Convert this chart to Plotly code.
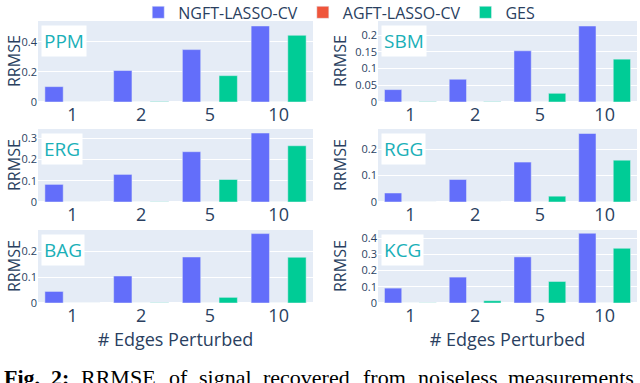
import plotly.graph_objects as go

categories = ["1", "2", "5", "10"]
graphs = ["PPM", "SBM", "ERG", "RGG", "BAG", "KCG"]
series_names = ["NGFT-LASSO-CV", "AGFT-LASSO-CV", "GES"]
series_colors = ["#636efa", "#EF553B", "#00cc96"]

ngft_ppm = [0.102, 0.209, 0.348, 0.505]
agft_ppm = [0.0, 0.0, 0.0, 0.0]
ges_ppm = [0.0, 0.003, 0.175, 0.443]

ngft_sbm = [0.037, 0.068, 0.153, 0.227]
agft_sbm = [0.0, 0.0, 0.0, 0.0]
ges_sbm = [0.001, 0.001, 0.026, 0.128]

ngft_erg = [0.083, 0.130, 0.237, 0.325]
agft_erg = [0.0, 0.0, 0.0, 0.0]
ges_erg = [0.0, 0.001, 0.106, 0.265]

ngft_rgg = [0.034, 0.085, 0.151, 0.259]
agft_rgg = [0.0, 0.0, 0.0, 0.0]
ges_rgg = [0.0, 0.0, 0.022, 0.158]

ngft_bag = [0.045, 0.105, 0.179, 0.270]
agft_bag = [0.0, 0.0, 0.0, 0.0]
ges_bag = [0.0, 0.001, 0.022, 0.178]

ngft_kcg = [0.092, 0.160, 0.285, 0.431]
agft_kcg = [0.0, 0.0, 0.0, 0.0]
ges_kcg = [0.001, 0.014, 0.133, 0.338]

y_dticks = [0.2, 0.05, 0.1, 0.1, 0.1, 0.1]
y_max = [0.538, 0.242, 0.344, 0.276, 0.284, 0.451]

caption_words = ["<b>Fig.</b>", "<b>2:</b>", "RRMSE", "of", "signal", "recovered",
                 "from", "noiseless", "measurements"]
caption_px = [3, 50, 80, 168, 198, 262, 362, 417, 507]

data_by_graph = [
    (ngft_ppm, agft_ppm, ges_ppm),
    (ngft_sbm, agft_sbm, ges_sbm),
    (ngft_erg, agft_erg, ges_erg),
    (ngft_rgg, agft_rgg, ges_rgg),
    (ngft_bag, agft_bag, ges_bag),
    (ngft_kcg, agft_kcg, ges_kcg),
]

W, H = 640, 383
x_domains = [[38 / W, 313 / W], [378 / W, 637 / W]]
y_domains = [[1 - 102 / H, 1 - 21 / H], [1 - 202 / H, 1 - 129 / H], [1 - 303 / H, 1 - 230 / H]]
ytitle_px = [13.5, 339.5]

fig = go.Figure()
layout = {}
annotations = []
for i, (g, vals) in enumerate(zip(graphs, data_by_graph)):
    r, c = divmod(i, 2)
    n = i + 1
    xa = "x" if n == 1 else f"x{n}"
    ya = "y" if n == 1 else f"y{n}"
    for s, (name, color, v) in enumerate(zip(series_names, series_colors, vals)):
        fig.add_trace(go.Bar(
            x=categories, y=v, name=name, marker_color=color,
            xaxis=xa, yaxis=ya, legendgroup=name, showlegend=(i == 0),
        ))
    xkey = "xaxis" if n == 1 else f"xaxis{n}"
    ykey = "yaxis" if n == 1 else f"yaxis{n}"
    layout[xkey] = dict(
        domain=x_domains[c], anchor=ya, type="category", automargin=False,
        tickfont=dict(size=18),
        title=dict(text="# Edges Perturbed", font=dict(size=18), standoff=4) if r == 2 else None,
    )
    layout[ykey] = dict(
        domain=y_domains[r], anchor=xa, dtick=y_dticks[i], range=[0, y_max[i]],
        tickfont=dict(size=11), automargin=False,
    )
    annotations.append(dict(
        text="RRMSE", xref="paper", yref="paper", x=ytitle_px[c] / W,
        y=sum(y_domains[r]) / 2, xanchor="center", yanchor="middle", textangle=-90,
        showarrow=False, font=dict(size=16, color="#2a3f5f"),
    ))
    annotations.append(dict(
        text=g, xref=f"{xa} domain", yref=f"{ya} domain", x=0.012, y=0.95,
        xanchor="left", yanchor="top", showarrow=False,
        font=dict(size=19, color="#1ab0b8"), bgcolor="white", borderpad=2,
    ))

for word, px in zip(caption_words, caption_px):
    annotations.append(dict(
        text=word, xref="paper", yref="paper", x=px / W, y=1 - 377 / H,
        xanchor="left", yanchor="middle", showarrow=False, borderpad=0,
        font=dict(size=22, color="black", family="Liberation Serif"),
    ))

fig.update_layout(
    **layout,
    annotations=annotations,
    width=W, height=H,
    margin=dict(l=0, r=0, t=0, b=0, autoexpand=False),
    barmode="group",
    font=dict(family="Open Sans"),
    legend=dict(orientation="h", x=0.216, y=1.012, xanchor="left", yanchor="top",
                font=dict(size=16), bgcolor="rgba(0,0,0,0)"),
    plot_bgcolor="#E5ECF6",
    paper_bgcolor="white",
)

fig.write_html("out.html", config={"displayModeBar": False},
               post_script="document.body.style.margin='0';document.body.style.overflow='hidden';")
